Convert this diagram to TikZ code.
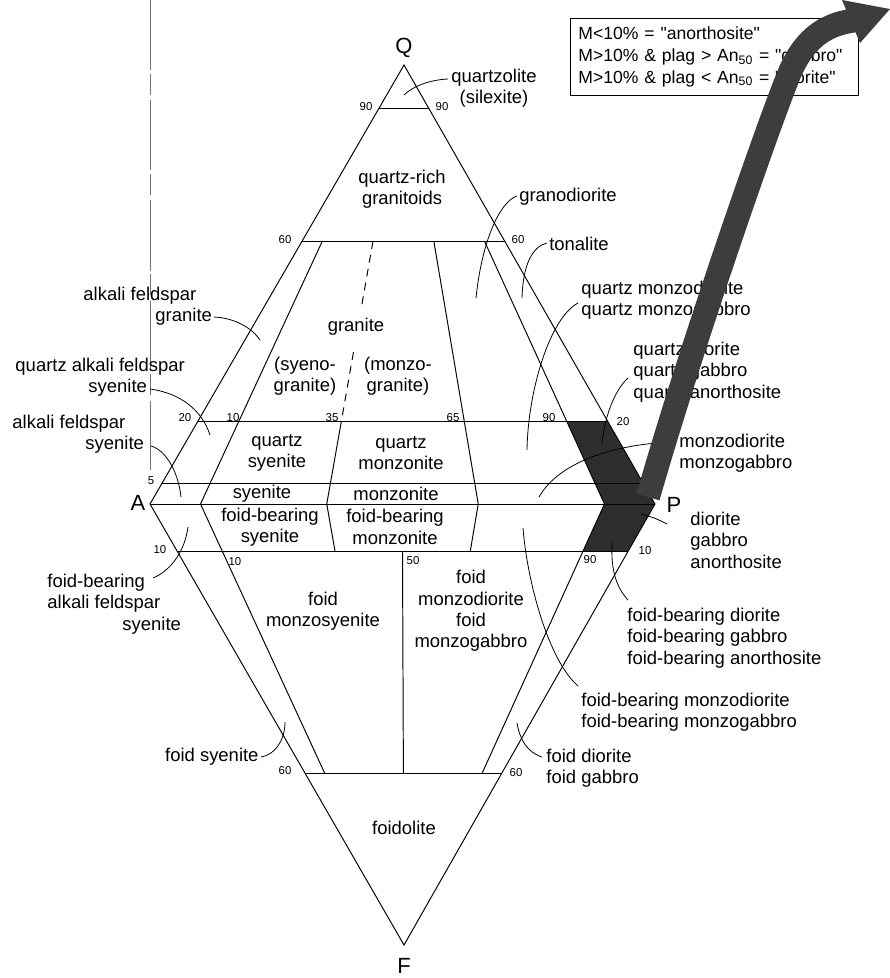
\documentclass[tikz,border=0pt]{standalone}
\usepackage{fontspec}
\setmainfont{Liberation Sans}
\usetikzlibrary{calc}
\newcommand{\lblsize}{\fontsize{10.5}{12.2}\selectfont}
\newcommand{\numsize}{\fontsize{6.5}{7}\selectfont}
\newcommand{\dq}{\XeTeXglyph\XeTeXcharglyph"22\relax}
\newcommand{\qt}[1]{\dq#1\dq}
\begin{document}
\begin{tikzpicture}[x=0.2mm,y=-0.2mm,line width=0.55pt,
  lbl/.style={font=\lblsize,align=center,inner sep=0pt},
  lbll/.style={font=\lblsize,align=left,inner sep=0pt},
  num/.style={font=\numsize,inner sep=0pt},
  vtx/.style={font=\fontsize{12.5}{14}\selectfont,inner sep=0pt},
  leader/.style={line width=0.45pt},
  shade/.style={fill=black!82},
  band/.style={draw=black!76,line width=4.8mm}]
\useasboundingbox (0,0) rectangle (890,978);
% scan crease
\draw[black!55,line width=0.35pt,dash pattern=on 40pt off 2pt on 12pt off 3pt] (150,0) -- (150,470);
% corners
\coordinate (Q) at (404,65);
\coordinate (A) at (150,504);
\coordinate (P) at (655,504);
\coordinate (F) at (404,945);
% plagioclase corner field
\fill[shade] (566.6,421) -- (607.6,421) -- (P) -- (628.2,551) -- (583.1,551) -- (604.5,504) -- cycle;
% outline
\draw (Q) -- (A) -- (F) -- (P) -- cycle;
\draw (A) -- (P);
% horizontal lines
\draw (379.1,108) -- (428.6,108);
\draw (302.2,241) -- (504.6,241);
\draw (198,421) -- (607.6,421);
\draw (162.1,483) -- (643,483);
\draw (177.1,551) -- (628.2,551);
\draw (304.9,773) -- (501.9,773);
% ratio lines
\draw (322.4,241) -- (200.5,504) -- (324.6,773);
\draw[dash pattern=on 4.5pt off 3.5pt] (373,241) -- (361.8,305);
\draw[dash pattern=on 4.5pt off 3.5pt] (353.5,352) -- (341.4,421);
\draw (341.4,421) -- (326.75,504) -- (335,551);
\draw (433.8,241) -- (478.25,504) -- (470.3,551);
\draw (484.4,241) -- (604.5,504) -- (583.1,551) -- (482.2,773);
\draw (402.5,551) -- (403.4,773);
% corner labels
\node[vtx] (q) at (404,48) {Q};
\node[vtx] (a) at (138,503) {A};
\node[vtx] (p) at (674,505) {P};
\node[vtx] (f) at (404,966) {F};
% tick values
\node[num] at (366,107) {90};
\node[num] at (442,107) {90};
\node[num] at (285,240) {60};
\node[num] at (518,240) {60};
\node[num] at (185,418) {20};
\node[num] at (233,418) {10};
\node[num] at (332,418) {35};
\node[num] at (453,418) {65};
\node[num] at (549,418) {90};
\node[num] at (623,422) {20};
\node[num] at (151,481) {5};
\node[num] at (160,550) {10};
\node[num] at (235,562) {10};
\node[num] at (413,561) {50};
\node[num] at (590,560) {90};
\node[num] at (645,551) {10};
\node[num] at (285,771) {60};
\node[num] at (516,773) {60};
% field names
\node[lbl] (qrg) at (402,189) {quartz-rich\\granitoids};
\node[lbl] (gra) at (356,327) {granite};
\node[lbl] (syg) at (305,376) {(syeno-\\granite)};
\node[lbl] (mzg) at (398,376) {(monzo-\\granite)};
\node[lbl] (qsy) at (277,453) {quartz\\syenite};
\node[lbl] (qmo) at (401,453) {quartz\\monzonite};
\node[lbl] (sye) at (262,494) {syenite};
\node[lbl] (mon) at (396,494) {monzonite};
\node[lbl] (fbs) at (270,527) {foid-bearing\\syenite};
\node[lbl] (fbmo) at (395,527) {foid-bearing\\monzonite};
\node[lbl] (fms) at (323,611) {foid\\monzosyenite};
\node[lbl] (fmd) at (471,611) {foid\\monzodiorite\\foid\\monzogabbro};
\node[lbl] (fdl) at (404,828) {foidolite};
% outside names
\node[lbl] (qzl) at (494,88) {quartzolite\\(silexite)};
\node[lbl] (grd) at (568,197) {granodiorite};
\node[lbl] (ton) at (579,244) {tonalite};
\node[lbll,anchor=west] (qmz) at (581,300) {quartz monzodiorite\\quartz monzogabbro};
\node[lbll,anchor=west] (qdi) at (633,372) {quartz diorite\\quartz gabbro\\quartz anorthosite};
\node[lbll,anchor=west] (mzd) at (679,453) {monzodiorite\\monzogabbro};
\node[lbll,anchor=west] (dgb) at (690,540) {diorite\\gabbro\\anorthosite};
\node[lbll,anchor=west] (fbd) at (627,638) {foid-bearing diorite\\foid-bearing gabbro\\foid-bearing anorthosite};
\node[lbll,anchor=west] (fbm) at (581,712) {foid-bearing monzodiorite\\foid-bearing monzogabbro};
\node[lbll,anchor=west] (fdi) at (546,768) {foid diorite\\foid gabbro};
\node[lbl,anchor=east] (fsy) at (259,757) {foid syenite};
\node[lbll,anchor=west] (fbafs) at (47,604) {foid-bearing\\alkali feldspar\\\hspace*{15mm}syenite};
\node[lbll,anchor=west] (afs) at (12,434) {alkali feldspar\\\hspace*{14.6mm}syenite};
\node[lbll,anchor=west] (qafs) at (15,377) {quartz alkali feldspar\\\hspace*{14.6mm}syenite};
\node[lbll,anchor=west] (afg) at (83,306) {alkali feldspar\\\hspace*{14.4mm}granite};
% leader ends
\coordinate (e-qzl) at (404,95);
\coordinate (e-grd) at (476,298);
\coordinate (e-ton) at (522,298);
\coordinate (e-qmz) at (527,450);
\coordinate (e-qdi) at (602,443);
\coordinate (e-mzd) at (539,497);
\coordinate (e-dgb) at (641,514);
\coordinate (e-fbd) at (612,542);
\coordinate (e-fbm) at (523,528);
\coordinate (e-fdi) at (517,723);
\coordinate (e-fsy) at (285,722);
\coordinate (e-fbafs) at (188,527);
\coordinate (e-afs) at (181,497);
\coordinate (e-qafs) at (210,435);
\coordinate (e-afg) at (260,340);
% leaders
\draw[leader] ($(qzl.west)+(-3,-9)$) .. controls (428,80) and (412,87) .. (e-qzl);
\draw[leader] ($(grd.west)+(-2,-1)$) .. controls (500,202) and (482,240) .. (e-grd);
\draw[leader] ($(ton.west)+(-2,-1)$) .. controls (532,247) and (523,265) .. (e-ton);
\draw[leader] ($(qmz.west)+(-3,3)$) .. controls (550,318) and (528,390) .. (e-qmz);
\draw[leader] ($(qdi.west)+(-5,6)$) .. controls (615,390) and (605,415) .. (e-qdi);
\draw[leader] ($(mzd.west)+(-2,-11)$) .. controls (620,443) and (560,460) .. (e-mzd);
\draw[leader] ($(dgb.west)+(-23,-16)$) .. controls (655,518) .. (e-dgb);
\draw[leader] ($(fbd.west)+(1,-38)$) .. controls (614,585) and (611,565) .. (e-fbd);
\draw[leader] ($(fbm.west)+(-3,-26)$) .. controls (548,660) and (527,580) .. (e-fbm);
\draw[leader] ($(fdi.west)+(-4,-11)$) .. controls (527,752) and (520,740) .. (e-fdi);
\draw[leader] ($(fsy.east)+(2,0)$) .. controls (275,755) and (285,740) .. (e-fsy);
\draw[leader] ($(fbafs.west)+(106,-26)$) .. controls (172,570) and (185,550) .. (e-fbafs);
\draw[leader] ($(afs.west)+(139,12)$) .. controls (165,450) and (178,470) .. (e-afs);
\draw[leader] ($(qafs.west)+(135,12)$) .. controls (180,393) and (202,410) .. (e-qafs);
\draw[leader] ($(afg.west)+(131,11)$) .. controls (235,318) and (252,328) .. (e-afg);
% note box
\node[draw,lbll,anchor=north west,inner xsep=1.6mm,inner ysep=0pt,text width=54.4mm,minimum height=15.4mm,font=\fontsize{10}{12.4}\selectfont] (note) at (570,18)
  {M<10\% = \qt{anorthosite}\\M>10\% \& plag > An\textsubscript{50} = \qt{gabbro}\\M>10\% \& plag < An\textsubscript{50} = \qt{diorite}};
% big arrow
\coordinate (root) at (648,497);
\coordinate (bend) at (790,72);
\coordinate (neck) at (858,20);
\coordinate (tip) at (890,9);
\draw[band] (root) .. controls (690,350) and (768,125) .. (bend) .. controls (806,36) and (828,23) .. (neck);
\fill[black!76] (842,0) -- (tip) -- (860,43) -- cycle;
\end{tikzpicture}
\end{document}
